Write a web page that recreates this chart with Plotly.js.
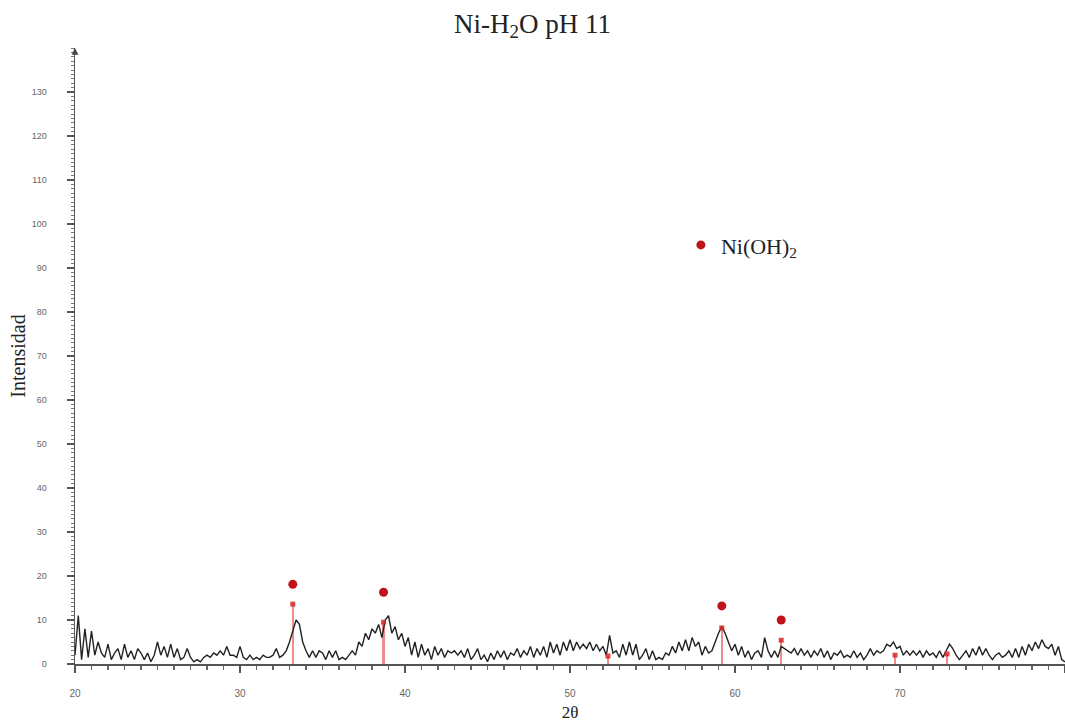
<!DOCTYPE html>
<html>
<head>
<meta charset="utf-8">
<script src="https://cdn.plot.ly/plotly-3.0.1.min.js"></script>
<style>html,body{margin:0;padding:0;background:#fff;}#chart{width:1065px;height:723px;}</style>
</head>
<body>
<div id="chart"></div>
<script>
// XRD pattern: 2θ from 20 to 80, step 0.2
const twoThetaStart = 20;
const twoThetaStep = 0.2;
const intensity = [
  2, 11, 1, 8, 1.5, 7.5, 2, 5, 2.5, 1.5,
  4.5, 1, 2.5, 3.5, 1, 4.5, 1.5, 3, 1, 3.5,
  2.5, 1, 2.5, 0.5, 2, 5, 2, 4, 1.5, 4.5,
  1.5, 3.5, 1, 1.5, 3.5, 1.5, 0.5, 1, 0.5, 1.5,
  2, 1.5, 2.5, 2, 3, 2, 4, 2, 2, 1.5,
  4, 1.5, 1, 2, 1, 1.5, 1, 2, 1.5, 1.5,
  2, 3.5, 1.5, 2, 3, 5, 7.5, 10, 9, 5,
  3, 1.5, 3, 1.5, 3, 2.5, 1, 3, 1.5, 3,
  1, 1.5, 1, 2, 3, 2, 5, 4, 7, 5.5,
  8, 7, 9, 6, 10, 11, 7, 8.5, 5.5, 7,
  4, 6, 2, 5, 1.5, 4.5, 2, 3.5, 1, 4,
  2, 3.5, 1.5, 3, 2.5, 3, 2, 3, 1.5, 3.5,
  1, 2, 3.5, 1, 2, 0.5, 2.5, 1, 3, 1.5,
  3, 1, 2.5, 2, 3.5, 1.5, 3, 2, 4, 1.5,
  3.5, 2, 4, 1.5, 5, 2.5, 4.5, 2, 5, 3,
  5.5, 3, 5, 3.5, 4.5, 3.5, 5, 3, 4.5, 3,
  4, 2, 6.5, 2.5, 3, 1.5, 4.5, 2, 5, 2,
  4.5, 1, 2, 3.5, 1, 3, 1, 1.5, 1, 2.5,
  2, 4, 2.5, 5, 3, 5.5, 3, 6, 4, 5,
  2, 4, 2.5, 3, 5, 7, 8.5, 7, 5, 3,
  4.5, 2, 4, 1.5, 3, 1, 2.5, 3, 1.5, 6,
  3, 1.5, 3, 1.5, 4, 3.5, 3, 2.5, 3.5, 2,
  3.5, 2, 3, 1.5, 3, 2, 3.5, 1.5, 3, 1,
  2.5, 2, 3, 1.5, 2, 1.5, 3, 1.5, 2.5, 1,
  2, 3.5, 2, 3, 2.5, 3, 4.5, 4, 5, 3.5,
  4, 2, 3, 2, 3, 2, 3, 1.5, 3, 2,
  2.5, 1.5, 3, 1.5, 3, 4.5, 3.5, 2, 1, 2,
  3, 1.5, 3.5, 2, 4, 2, 3.5, 2, 1, 2,
  2.5, 1.5, 2, 3, 1.5, 3.5, 1.5, 4, 2, 4.5,
  3, 5, 3.5, 5.5, 4, 3.5, 4.5, 2, 4, 1,
  0.5
];
const twoTheta = intensity.map((_, i) => +(twoThetaStart + i * twoThetaStep).toFixed(2));

// Ni(OH)2 reference peaks
const refPos = [33.2, 38.7, 52.3, 59.2, 62.8, 69.7, 72.85];
const refHeight = [13.6, 9.5, 1.8, 8.2, 5.4, 2.0, 2.3];
// Big identification dots above main peaks
const idPos = [33.2, 38.7, 59.2, 62.8];
const idHeight = [18.1, 16.3, 13.2, 10.0];

const yTicks = [0, 10, 20, 30, 40, 50, 60, 70, 80, 90, 100, 110, 120, 130];
const xTicks = [20, 30, 40, 50, 60, 70, 80];

const red = '#c0141c';
const traces = [
  {
    type: 'bar', x: refPos, y: refHeight, width: 0.13,
    marker: {color: 'rgba(238,120,120,0.85)'}, showlegend: false, hoverinfo: 'skip'
  },
  {
    type: 'scatter', mode: 'lines', x: twoTheta, y: intensity,
    line: {color: '#222', width: 1.4}, showlegend: false
  },
  {
    type: 'scatter', mode: 'markers', x: refPos, y: refHeight,
    marker: {symbol: 'square', size: 5, color: 'rgba(215,40,40,0.85)'}, showlegend: false
  },
  {
    type: 'scatter', mode: 'markers', x: idPos, y: idHeight,
    name: 'Ni(OH)<sub>2</sub>',
    marker: {symbol: 'circle', size: 9, color: red}
  }
];

const layout = {
  width: 1065, height: 723,
  paper_bgcolor: '#fff', plot_bgcolor: '#fff',
  margin: {l: 75, r: 0, t: 48, b: 59},
  title: {
    text: 'Ni-H<sub>2</sub>O pH 11',
    font: {family: 'Liberation Serif', size: 27, color: '#222'},
    x: 0.5, xref: 'container', y: 0.968, yref: 'container', yanchor: 'middle'
  },
  xaxis: {
    range: [20, 80], tickvals: xTicks, ticktext: xTicks.map(String),
    showgrid: false, zeroline: false, showline: true, linecolor: '#555', linewidth: 1.5,
    ticks: 'outside', ticklen: 7, tickcolor: '#555', tickwidth: 1.5,
    minor: {dtick: 1, ticks: 'outside', ticklen: 4, tickcolor: '#666', tickwidth: 1.2},
    tickfont: {family: 'Liberation Sans', size: 10, color: '#666'},
    ticklabelstandoff: 12,
    title: {text: '2θ', font: {family: 'Liberation Serif', size: 17, color: '#222'}, standoff: 8}
  },
  yaxis: {
    range: [0, 140], tickvals: yTicks, ticktext: yTicks.map(String),
    showgrid: false, zeroline: false, showline: true, linecolor: '#555', linewidth: 1.5,
    ticks: 'outside', ticklen: 7, tickcolor: '#555', tickwidth: 1.5,
    minor: {dtick: 1, ticks: 'outside', ticklen: 3, tickcolor: '#777', tickwidth: 1},
    tickfont: {family: 'Liberation Sans', size: 9, color: '#666'},
    ticklabelstandoff: 18,
    title: {text: 'Intensidad', font: {family: 'Liberation Serif', size: 20, color: '#222'}, standoff: 0}
  },
  legend: {
    x: 0.612, y: 0.68, xanchor: 'left', yanchor: 'middle',
    font: {family: 'Liberation Serif', size: 22, color: '#222'},
    bgcolor: 'rgba(0,0,0,0)', itemwidth: 30
  },
  bargap: 0,
  annotations: [{
    x: 0, y: 1, xref: 'paper', yref: 'paper', text: '', showarrow: true,
    ax: 0, ay: 8, arrowhead: 2, arrowsize: 0.9, arrowwidth: 1.5, arrowcolor: '#444'
  }]
};

Plotly.newPlot('chart', traces, layout, {displayModeBar: false, staticPlot: true});
</script>
</body>
</html>
